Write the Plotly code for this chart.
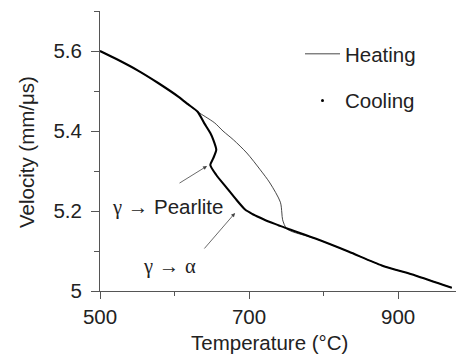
import plotly.graph_objects as go

# Heating curve (thin line)
heat_T = [500, 524, 551, 578, 605, 618, 631, 642, 654, 665, 679, 697, 715, 728, 742, 744, 745, 751, 789, 834, 878, 923, 972]
heat_v = [5.600, 5.578, 5.551, 5.520, 5.486, 5.467, 5.448, 5.435, 5.420, 5.400, 5.378, 5.345, 5.303, 5.270, 5.222, 5.195, 5.178, 5.155, 5.131, 5.098, 5.064, 5.039, 5.008]

# Cooling curve (dense dots)
cool_T = [500, 524, 551, 578, 605, 618, 631, 640, 648, 652, 656, 652, 648, 656, 670, 683, 695, 704, 715, 722, 740, 751, 789, 834, 878, 923, 972]
cool_v = [5.600, 5.578, 5.551, 5.520, 5.486, 5.467, 5.448, 5.419, 5.395, 5.378, 5.353, 5.332, 5.315, 5.290, 5.258, 5.228, 5.203, 5.193, 5.183, 5.177, 5.164, 5.156, 5.131, 5.098, 5.064, 5.039, 5.008]

x_ticks = [500, 700, 900]
x_minor = [600, 800]
y_ticks = [5.0, 5.2, 5.4, 5.6]
y_ticklabels = ["5", "5.2", "5.4", "5.6"]
y_minor = [5.1, 5.3, 5.5, 5.7]

FONT = "Liberation Sans, Arial, sans-serif"
SERIF = "Liberation Serif, Times New Roman, serif"
FS = 20.5
TXT = "#222222"

# plot area in page pixels: x 100..463, y 11..291 (page has 8px body margin)
PW, PH = 363, 280

fig = go.Figure()
fig.add_trace(go.Scatter(x=heat_T, y=heat_v, mode="lines", name="Heating",
                         line=dict(color="#333333", width=0.9, shape="spline", smoothing=0.8),
                         showlegend=False))
fig.add_trace(go.Scatter(x=cool_T, y=cool_v, mode="lines", name="Cooling",
                         line=dict(color="black", width=2.1, shape="spline", smoothing=0.6),
                         showlegend=False))
# legend entries
fig.add_trace(go.Scatter(x=[None], y=[None], mode="lines", name="Heating",
                         line=dict(color="#333333", width=0.9), legendgroup="h"))
fig.add_trace(go.Scatter(x=[None], y=[None], mode="markers", name="Cooling",
                         marker=dict(color="black", size=3), legendgroup="c"))

axis_common = dict(showgrid=False, zeroline=False, showline=True, linecolor="#555555",
                   linewidth=1, ticks="outside", tickcolor="#555555", tickwidth=1,
                   tickfont=dict(family=FONT, size=FS, color=TXT))

fig.update_xaxes(range=[500, 987], tickvals=x_ticks, ticklen=7,
                 minor=dict(tickvals=x_minor, ticklen=4, ticks="outside", tickcolor="#555555"),
                 **axis_common)
fig.update_yaxes(range=[5.0, 5.7], tickvals=y_ticks, ticktext=y_ticklabels, ticklen=8,
                 ticklabelstandoff=5,
                 minor=dict(tickvals=y_minor, ticklen=5, ticks="outside", tickcolor="#555555"),
                 **axis_common)

fig.add_annotation(text="Temperature (°C)", xref="paper", yref="paper",
                   x=(269 - 100) / PW, y=-(342 - 291) / PH, xanchor="center", yanchor="middle",
                   showarrow=False, font=dict(family=FONT, size=FS, color=TXT))
fig.add_annotation(text="Velocity (mm/μs)", xref="paper", yref="paper",
                   x=-(100 - 26) / PW, y=(291 - 152) / PH, xanchor="center", yanchor="middle",
                   textangle=-90, showarrow=False,
                   font=dict(family=FONT, size=FS, color=TXT))

g = f'<span style="font-family:{SERIF}">γ</span>'
a = f'<span style="font-family:{SERIF}">α</span>'
fig.add_annotation(text=f"{g} → Pearlite", x=590.0, y=5.21, showarrow=False,
                   font=dict(family=FONT, size=FS, color=TXT))
fig.add_annotation(text=f"{g} → {a}", x=592.6, y=5.0625, showarrow=False,
                   font=dict(family=FONT, size=FS, color=TXT))

fig.add_annotation(x=643.6, y=5.3125, ax=604.7, ay=5.2675, axref="x", ayref="y",
                   text="", showarrow=True, arrowhead=2, arrowsize=1, arrowwidth=0.8,
                   arrowcolor="#444444")
fig.add_annotation(x=681.2, y=5.195, ax=638.3, ay=5.1025, axref="x", ayref="y",
                   text="", showarrow=True, arrowhead=2, arrowsize=1, arrowwidth=0.8,
                   arrowcolor="#444444")

fig.update_layout(
    width=456, height=346,
    margin=dict(l=92, r=1, t=3, b=63),
    plot_bgcolor="white", paper_bgcolor="white",
    legend=dict(x=(300 - 100) / PW, y=1 - (34 - 11) / PH, xanchor="left", yanchor="top",
                bgcolor="rgba(0,0,0,0)", font=dict(family=FONT, size=FS, color=TXT),
                itemwidth=35, tracegroupgap=17, traceorder="grouped"),
)

fig.write_html("out.html")
